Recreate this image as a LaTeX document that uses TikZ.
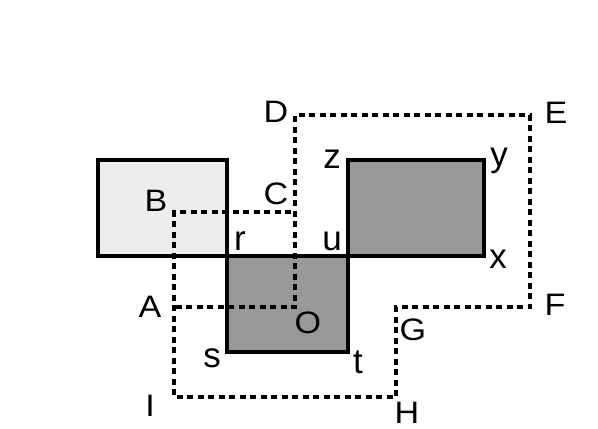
\documentclass[tikz,border=0pt]{standalone}
\usepackage{fontspec}
\setmainfont{Liberation Sans}
\newfontfamily\capfont{Liberation Sans}[FakeStretch=1.1]
\newfontfamily\lowfont{Liberation Sans}
\begin{document}
\begin{tikzpicture}[x=1pt,y=-1pt,
  caplabel/.style={anchor=base,inner sep=0pt,font=\capfont\fontsize{31}{32}\selectfont},
  lowlabel/.style={anchor=base,inner sep=0pt,font=\lowfont\fontsize{35}{36}\selectfont},
  rectline/.style={draw=black,line width=3.4pt},
  dashline/.style={draw=black,line width=3.2pt,dash pattern=on 6pt off 4.5pt}]
\useasboundingbox (0,0) rectangle (598,429);
% rectangles
\fill[fill=black!7] (98,160) rectangle (227,256);
\fill[fill=black!40] (227,256) rectangle (348,352);
\fill[fill=black!40] (348,160) rectangle (484,256);
% corner coordinates
\coordinate (cD) at (295,115);
\coordinate (cE) at (530,115);
\coordinate (cF) at (530,307);
\coordinate (cG) at (396,307);
\coordinate (cH) at (396,397);
\coordinate (cI) at (174,397);
\coordinate (cB) at (174,212);
\coordinate (cC) at (291,212);
\coordinate (cO) at (295,307);
\coordinate (cA) at (174,307);
\draw[dashline] (cC) -- (cB) -- (cI) -- (cH) -- (cG) -- (cF) -- (cE) -- (cD) -- (cO) -- (cA);
\draw[rectline] (98,160) rectangle (227,256);
\draw[rectline] (227,256) rectangle (348,352);
\draw[rectline] (348,160) rectangle (484,256);
% labels
\node[caplabel] (D) at (276,122) {D};
\node[caplabel] (E) at (556,123) {E};
\node[caplabel] (B) at (156,211) {B};
\node[caplabel] (C) at (276,204) {C};
\node[caplabel] (A) at (150,317) {A};
\node[caplabel] (O) at (308,333) {O};
\node[caplabel] (G) at (413,340) {G};
\node[caplabel] (F) at (555,315) {F};
\node[caplabel] (H) at (407,423) {H};
\node[caplabel] (I) at (150,416) {I};
\node[lowlabel] (z) at (332,168) {z};
\node[lowlabel] (y) at (499,166) {y};
\node[lowlabel] (x) at (498,268) {x};
\node[lowlabel] (r) at (240,250) {r};
\node[lowlabel] (u) at (332,250) {u};
\node[lowlabel] (s) at (212,367) {s};
\node[lowlabel] (t) at (358,373) {t};
\end{tikzpicture}
\end{document}
